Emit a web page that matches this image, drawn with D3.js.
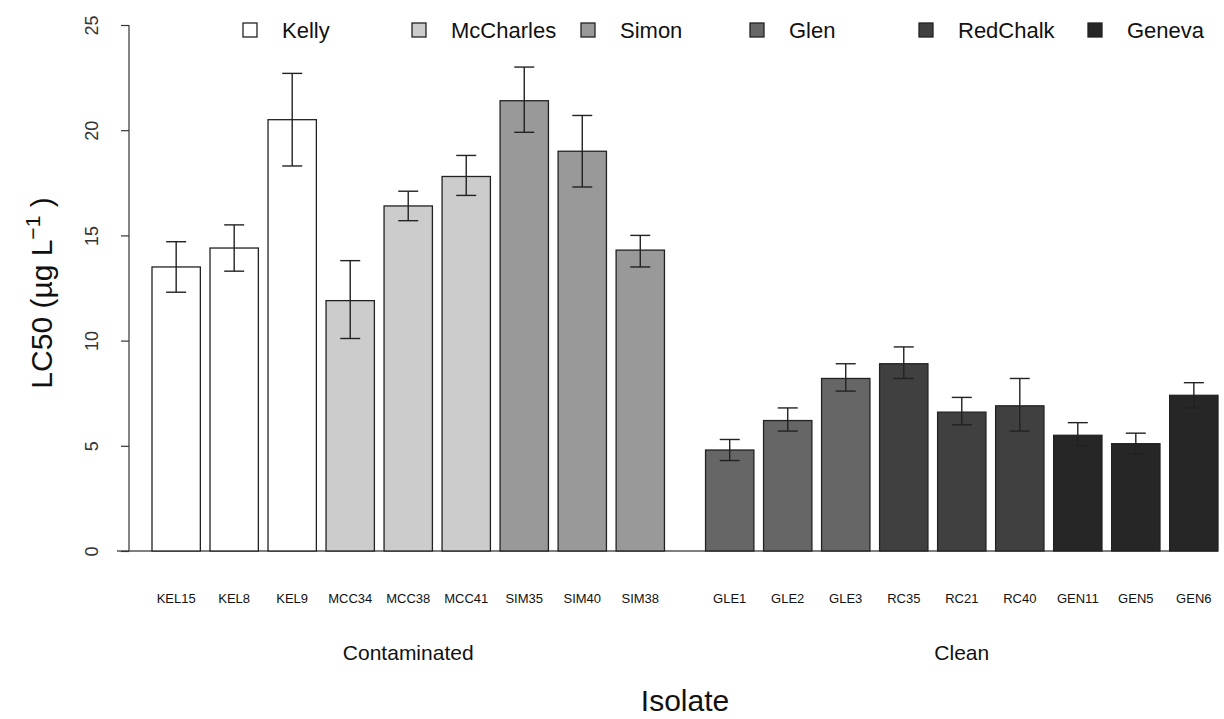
<!DOCTYPE html>
<html>
<head>
<meta charset="utf-8">
<script src="https://cdn.jsdelivr.net/npm/d3@7"></script>
<style>
  body { margin: 0; background: #fff; }
  text { font-family: "Liberation Sans", Arial, sans-serif; fill: #111; }
</style>
</head>
<body>
<div id="chart"></div>
<script>
// isolates, grouped by lake
var isolates = ["KEL15","KEL8","KEL9","MCC34","MCC38","MCC41","SIM35","SIM40","SIM38",
                "GLE1","GLE2","GLE3","RC35","RC21","RC40","GEN11","GEN5","GEN6"];
var lakeOf = ["Kelly","Kelly","Kelly","McCharles","McCharles","McCharles","Simon","Simon","Simon",
              "Glen","Glen","Glen","RedChalk","RedChalk","RedChalk","Geneva","Geneva","Geneva"];
var lc50  = [13.5, 14.4, 20.5, 11.9, 16.4, 17.8, 21.4, 19.0, 14.3,
             4.8, 6.2, 8.2, 8.9, 6.6, 6.9, 5.5, 5.1, 7.4];
var lower = [12.3, 13.3, 18.3, 10.1, 15.7, 16.9, 19.9, 17.3, 13.5,
             4.3, 5.7, 7.6, 8.2, 6.0, 5.7, 5.0, 4.6, 6.8];
var upper = [14.7, 15.5, 22.7, 13.8, 17.1, 18.8, 23.0, 20.7, 15.0,
             5.3, 6.8, 8.9, 9.7, 7.3, 8.2, 6.1, 5.6, 8.0];
var lakes = ["Kelly","McCharles","Simon","Glen","RedChalk","Geneva"];
var lakeFill = ["#ffffff","#cccccc","#999999","#666666","#404040","#262626"];
var groups = ["Contaminated","Clean"];
var yTicks = [0,5,10,15,20,25];

var W = 1224, H = 719;
var space = 0.2, groupGap = 0.85;   // barplot-style spacing, in bar widths

// left edge of each bar in bar-width units
var barPos = isolates.map(function(d,i){
  return i*(1+space) + (i >= 9 ? groupGap - space : 0);
});
var totalUnits = barPos[barPos.length-1] + 1;

var x = d3.scaleLinear().domain([0, totalUnits]).range([152, 1218]);
var y = d3.scaleLinear().domain([0, 25]).range([551, 25]);
var fill = d3.scaleOrdinal().domain(lakes).range(lakeFill);

var svg = d3.select("#chart").append("svg")
  .attr("width", W).attr("height", H);

// baseline
svg.append("line")
  .attr("x1", 117).attr("x2", x(totalUnits))
  .attr("y1", y(0)).attr("y2", y(0))
  .style("stroke","#555").style("stroke-width",1.3);

// bars
svg.selectAll(".bar")
  .data(isolates).enter()
  .append("rect")
  .attr("class","bar")
  .attr("x", function(d,i){ return x(barPos[i]); })
  .attr("width", function(d,i){ return x(barPos[i]+1) - x(barPos[i]); })
  .attr("y", function(d,i){ return y(lc50[i]); })
  .attr("height", function(d,i){ return y(0) - y(lc50[i]); })
  .style("fill", function(d,i){ return fill(lakeOf[i]); })
  .style("stroke","#222")
  .style("stroke-width",1.3);

// error bars
var cap = 10;
var err = svg.selectAll(".err")
  .data(isolates).enter()
  .append("g").attr("class","err")
  .attr("transform", function(d,i){ return "translate(" + x(barPos[i]+0.5) + ",0)"; })
  .style("stroke","#222").style("stroke-width",1.4);
err.append("line")
  .attr("y1", function(d,i){ return y(lower[i]); })
  .attr("y2", function(d,i){ return y(upper[i]); });
err.append("line").attr("x1",-cap).attr("x2",cap)
  .attr("y1", function(d,i){ return y(upper[i]); })
  .attr("y2", function(d,i){ return y(upper[i]); });
err.append("line").attr("x1",-cap).attr("x2",cap)
  .attr("y1", function(d,i){ return y(lower[i]); })
  .attr("y2", function(d,i){ return y(lower[i]); });

// y axis
var yAxis = d3.axisLeft(y).tickValues(yTicks).tickSize(8).tickPadding(0).tickFormat(d3.format("d"));
var ya = svg.append("g").attr("transform","translate(129,0)").call(yAxis);
ya.select(".domain").attr("d","M0," + y(25) + "V" + y(0)).style("stroke","#333").style("stroke-width",1.2);
ya.selectAll(".tick line").style("stroke","#333").style("stroke-width",1.2);
ya.selectAll(".tick text")
  .attr("x",0).attr("dy",null)
  .attr("transform","translate(-31,0) rotate(-90)")
  .style("text-anchor","middle")
  .style("font-size","18px")
  .style("font-family","Liberation Sans, Arial, sans-serif")
  .style("fill","#333");

// isolate labels
svg.selectAll(".xlab")
  .data(isolates).enter()
  .append("text")
  .attr("x", function(d,i){ return x(barPos[i]+0.5); })
  .attr("y", 603)
  .style("text-anchor","middle")
  .style("font-size","13px")
  .text(function(d){ return d; });

// group labels
var groupCentre = [(x(barPos[0]) + x(barPos[8]+1))/2, (x(barPos[9]) + x(barPos[17]+1))/2];
svg.selectAll(".glab")
  .data(groups).enter()
  .append("text")
  .attr("x", function(d,i){ return groupCentre[i]; })
  .attr("y", 660)
  .style("text-anchor","middle")
  .style("font-size","21px")
  .text(function(d){ return d; });

// axis titles
svg.append("text")
  .attr("x", 685).attr("y", 711)
  .style("text-anchor","middle")
  .style("font-size","30px")
  .text("Isolate");

var yt = svg.append("text")
  .attr("transform","translate(52," + ((y(0)+y(25))/2 + 5) + ") rotate(-90)")
  .style("text-anchor","middle")
  .style("font-size","30px");
yt.append("tspan").text("LC50 (\u00b5g L");
yt.append("tspan").attr("dy",-12).style("font-size","21px").text("\u22121");
yt.append("tspan").attr("dy",12).text(" )");

// legend
var legX = d3.scaleLinear().domain([0, lakes.length-1]).range([250, 1095]);
var leg = svg.selectAll(".leg")
  .data(lakes).enter()
  .append("g").attr("class","leg")
  .attr("transform", function(d,i){ return "translate(" + legX(i) + ",30)"; });
leg.append("rect")
  .attr("x",-7).attr("y",-7).attr("width",14).attr("height",14)
  .style("fill", function(d){ return fill(d); })
  .style("stroke","#222").style("stroke-width",1.3);
leg.append("text")
  .attr("x",32).attr("y",8)
  .style("font-size","22px")
  .text(function(d){ return d; });
</script>
</body>
</html>
